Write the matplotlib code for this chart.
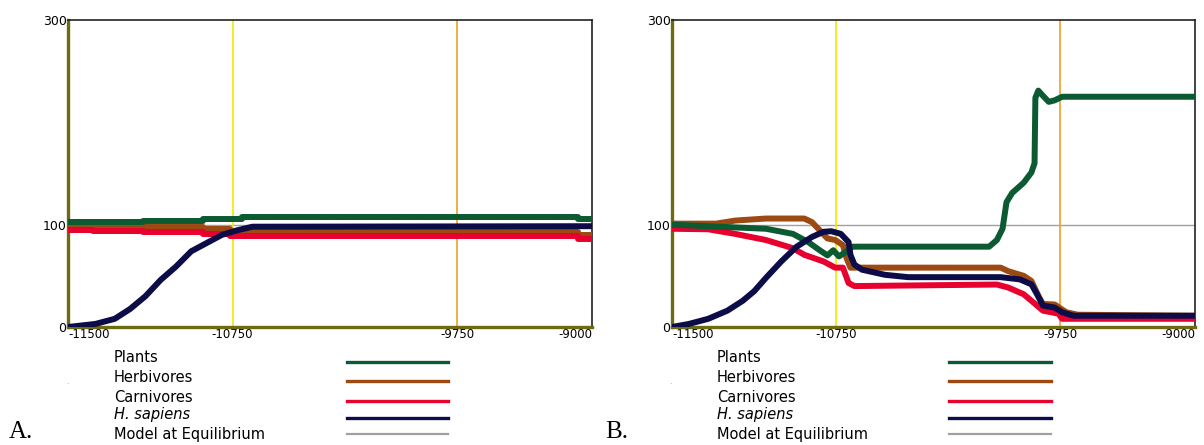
import matplotlib.pyplot as plt

# ----------------------
# data
# ----------------------
x_ticks = [-11500, -10715, -9643, -9000]
x_tick_labels = ["-11500", "-10750", "-9750", "-9000"]
y_ticks = [0, 100, 300]
event_1 = -10715   # yellow line
event_2 = -9643    # orange line
equilibrium = 100

# panel A
a_plants_x = [-11500, -11142, -10856, -10670, -9067, -9000]
a_plants_y = [102.3, 103.9, 106.0, 107.5, 105.2, 105.2]
a_herb_x = [-11500, -11142, -10856, -10727, -9067, -9000]
a_herb_y = [99.7, 98.0, 95.5, 93.0, 90.0, 90.0]
a_carn_x = [-11500, -11381, -11142, -10856, -10727, -9067, -9000]
a_carn_y = [95.0, 94.0, 92.5, 90.4, 89.0, 86.0, 86.0]
a_sap_x = [-11500, -11369, -11277, -11204, -11131, -11058, -10985, -10912,
           -10839, -10766, -10693, -10620, -9000]
a_sap_y = [0, 3, 8, 17.6, 30, 46, 59, 74, 82, 90, 94.5, 98, 98.5]

# panel B
b_plants_x = [-11500, -11051, -10922, -10849, -10794, -10757, -10729, -10702,
              -10665, -10637, -9984, -9947, -9920, -9901, -9874, -9819,
              -9782, -9767, -9763, -9749, -9727, -9699, -9671, -9635, -9000]
b_plants_y = [100, 96, 91, 83, 75, 70, 75, 69, 74, 78.5, 78.5, 85, 96, 122,
              131, 141, 151, 160, 224, 231, 226, 220, 221.5, 225, 225]
b_herb_x = [-11500, -11290, -11198, -11051, -10868, -10831, -10794, -10757,
            -10720, -10683, -10665, -10647, -10610, -9929, -9892, -9819,
            -9782, -9745, -9727, -9671, -9616, -9561, -9000]
b_herb_y = [101, 101, 104, 106, 106, 102.5, 94.5, 86.5, 85, 80, 67, 58, 58,
            58, 54.5, 50, 45, 29, 22.5, 22, 14.5, 12, 11]
b_carn_x = [-11500, -11327, -11198, -11051, -10922, -10867, -10775, -10720,
            -10683, -10656, -10628, -9947, -9892, -9819, -9764, -9727,
            -9653, -9635, -9000]
b_carn_y = [96, 95.5, 91, 85, 77, 70.5, 64, 58, 58, 43, 40, 41.5, 38.5, 32,
            22.5, 16, 13, 8, 8]
b_sap_x = [-11500, -11419, -11327, -11235, -11162, -11107, -11051, -10978,
           -10904, -10831, -10776, -10739, -10693, -10656, -10647, -10628,
           -10592, -10482, -10371, -9929, -9837, -9782, -9755, -9727, -9671,
           -9635, -9580, -9000]
b_sap_y = [0, 3, 8, 16, 25.6, 35, 48, 64, 78.5, 88, 93, 93.6, 91, 83, 70.5,
           61, 56, 51, 48.7, 48.7, 46.5, 41.7, 32, 21, 19, 14.4, 11, 11]

legend_names = ["Plants", "Herbivores", "Carnivores", "H. sapiens",
                "Model at Equilibrium"]

# ----------------------
# style
# ----------------------
c_plants = "#0b5a32"
c_herb = "#9c4a12"
c_carn = "#e8002e"
c_sap = "#0c0c48"
c_eq = "#a0a0a0"
c_yellow = "#f2ea00"
c_orange = "#f0a020"
c_spine = "#6e6a10"
lw = 4.3

fig = plt.figure(figsize=(12.04, 4.45), dpi=100)

W, H = 1204.0, 445.0
panels = [
    dict(left=68, width=524, label="A.", label_x=9, leg_text=114, leg_l=347, leg_r=448,
         dot=67,
         series=[(a_herb_x, a_herb_y, c_herb, "steps-post"),
                 (a_carn_x, a_carn_y, c_carn, "steps-post"),
                 (a_plants_x, a_plants_y, c_plants, "steps-post"),
                 (a_sap_x, a_sap_y, c_sap, "default")]),
    dict(left=672, width=523, label="B.", label_x=605, leg_text=717, leg_l=949, leg_r=1051,
         dot=670,
         series=[(b_herb_x, b_herb_y, c_herb, "default"),
                 (b_carn_x, b_carn_y, c_carn, "default"),
                 (b_plants_x, b_plants_y, c_plants, "default"),
                 (b_sap_x, b_sap_y, c_sap, "default")]),
]

for p in panels:
    ax = fig.add_axes([p["left"] / W, (H - 327) / H, p["width"] / W, 307 / H])
    ax.set_xlim(-11500, -9000)
    ax.set_ylim(0, 300)
    ax.axhline(equilibrium, color=c_eq, lw=1, zorder=1)
    ax.axvline(event_1, color=c_yellow, lw=1.2, zorder=1)
    ax.axvline(event_2, color=c_orange, lw=1.2, zorder=1)
    for xs, ys, col, ds in p["series"]:
        ax.plot(xs, ys, color=col, lw=lw, drawstyle=ds, solid_capstyle="butt",
                solid_joinstyle="round", zorder=3)

    ax.set_xticks(x_ticks)
    ax.set_xticklabels(x_tick_labels, fontfamily="DejaVu Sans", fontsize=8.5)
    ax.set_yticks(y_ticks)
    ax.set_yticklabels([str(v) for v in y_ticks], fontfamily="DejaVu Sans", fontsize=9)
    ax.tick_params(length=0, pad=1)
    ax.tick_params(axis="y", pad=1)
    lbls = ax.get_xticklabels()
    lbls[0].set_horizontalalignment("left")
    lbls[-1].set_horizontalalignment("right")

    for s in ["top", "right"]:
        ax.spines[s].set_color("#222222")
        ax.spines[s].set_linewidth(1.2)
    for s in ["left", "bottom"]:
        ax.spines[s].set_color(c_spine)
        ax.spines[s].set_linewidth(2.4)

    # legend drawn below the axes
    leg_cols = [c_plants, c_herb, c_carn, c_sap, c_eq]
    text_y = [357, 377, 397, 415, 434]
    line_y = [362, 381, 401, 418, 434]
    for i, name in enumerate(legend_names):
        style = "italic" if name.startswith("H.") else "normal"
        fig.text(p["leg_text"] / W, 1 - text_y[i] / H, name, fontsize=10.5,
                 fontstyle=style, family="DejaVu Sans", va="center", ha="left")
        fig.add_artist(plt.Line2D([p["leg_l"] / W, p["leg_r"] / W],
                                  [1 - line_y[i] / H, 1 - line_y[i] / H],
                                  color=leg_cols[i], lw=2.4 if i < 4 else 1.6))
    fig.text(p["label_x"] / W, 1 - 432 / H, p["label"], fontsize=18,
             family="Liberation Serif", va="center", ha="left")
    fig.text(p["dot"] / W, 1 - 385 / H, "\u00b7", fontsize=6, color="#9a9a40",
             va="center", ha="center")

fig.savefig("out.png", dpi=100)
